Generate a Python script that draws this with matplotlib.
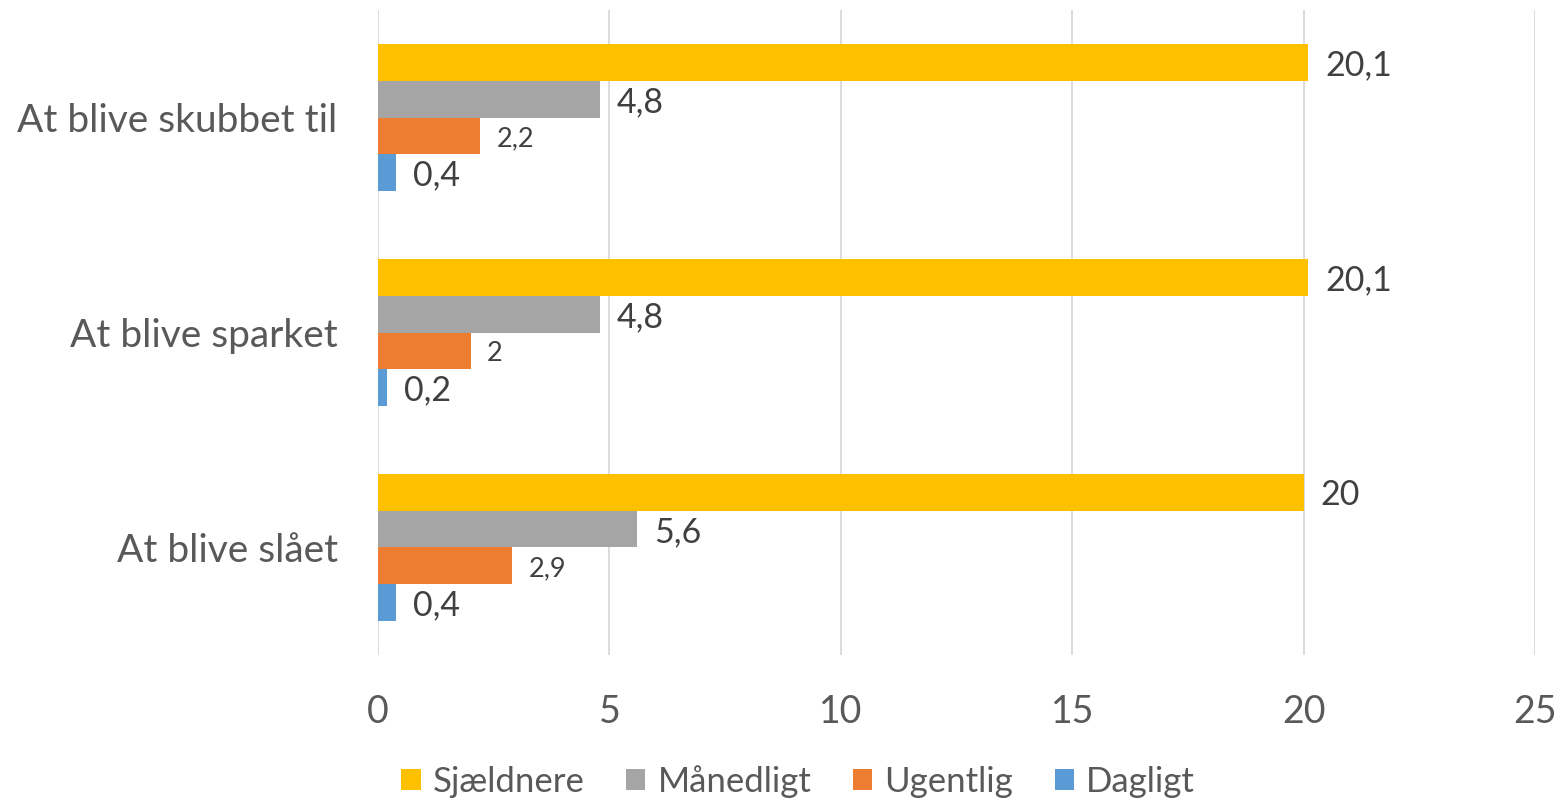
import numpy as np
import matplotlib.pyplot as plt

# categories listed bottom -> top (barh draws from y=0 upward)
categories = ["At blive slået", "At blive sparket", "At blive skubbet til"]
series_names = ["Sjældnere", "Månedligt", "Ugentlig", "Dagligt"]
sjaeldnere = [20.0, 20.1, 20.1]
maanedligt = [5.6, 4.8, 4.8]
ugentlig = [2.9, 2.0, 2.2]
dagligt = [0.4, 0.2, 0.4]
value_labels = [
    ["20", "20,1", "20,1"],
    ["5,6", "4,8", "4,8"],
    ["2,9", "2", "2,2"],
    ["0,4", "0,2", "0,4"],
]
colors = ["#FFC000", "#A5A5A5", "#ED7D31", "#5B9BD5"]
label_sizes = [24.5, 24.5, 19.5, 24.5]

plt.rcParams["font.family"] = ["Lato", "DejaVu Sans"]

fig = plt.figure(figsize=(15.65, 8.02), dpi=100)
ax = fig.add_axes([0.2415, 0.1833, 0.7395, 0.8042])

y = np.arange(len(categories))
h = 0.172
offsets = [1.5 * h, 0.5 * h, -0.5 * h, -1.5 * h]
all_values = [sjaeldnere, maanedligt, ugentlig, dagligt]

for vals, name, col, off, labs, fs in zip(all_values, series_names, colors,
                                          offsets, value_labels, label_sizes):
    bars = ax.barh(y + off, vals, height=h, color=col, label=name, zorder=3)
    for b, lab in zip(bars, labs):
        ax.annotate(lab, (b.get_width(), b.get_y() + b.get_height() / 2),
                    xytext=(12, -2), textcoords="offset points",
                    va="center", ha="left", fontsize=fs, color="#404040")

ax.set_xlim(0, 25)
ax.set_ylim(-0.5, 2.5)
ax.set_xticks(range(0, 26, 5))
ax.set_yticks(y)
ax.set_yticklabels(categories)
ax.tick_params(axis="y", length=0, pad=29, labelsize=28, labelcolor="#595959")
ax.tick_params(axis="x", length=0, pad=28, labelsize=27, labelcolor="#595959")
ax.grid(axis="x", color="#D9D9D9", linewidth=1.3, zorder=0)
for s in ax.spines.values():
    s.set_visible(False)

fig.legend(loc="lower center", bbox_to_anchor=(0.51, -0.034), ncol=4,
           frameon=False, fontsize=25, handlelength=0.55, handleheight=0.55,
           handletextpad=0.35, columnspacing=1.2, labelcolor="#595959")

fig.savefig("out.png", dpi=100)
